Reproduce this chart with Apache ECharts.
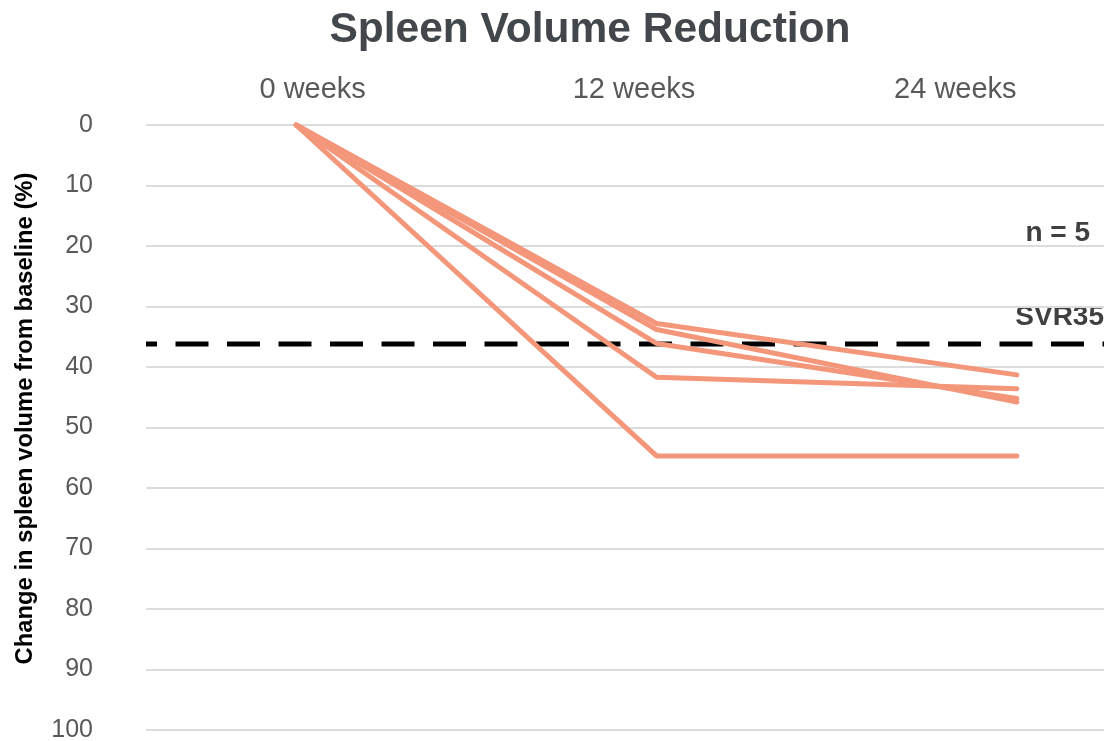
<!DOCTYPE html>
<html>
<head>
<meta charset="utf-8">
<style>
  html, body { margin: 0; padding: 0; background: #ffffff; }
  #chart { width: 1104px; height: 741px; }
</style>
<script src="https://cdn.jsdelivr.net/npm/echarts@6/dist/echarts.min.js"></script>
</head>
<body>
<div id="chart"></div>
<script>
// Time points (weeks) and their labels
const weeks = [0, 12, 24];
const weekLabels = ['0 weeks', '12 weeks', '24 weeks'];

// Percentage reduction of spleen volume from baseline, one array per patient
const patient1 = [0, 32.8, 41.3];
const patient2 = [0, 33.8, 45.8];
const patient3 = [0, 36.1, 45.2];
const patient4 = [0, 41.7, 43.6];
const patient5 = [0, 54.7, 54.7];
const patients = [patient1, patient2, patient3, patient4, patient5];

// SVR35 threshold line and the week range it spans
const svrThreshold = 36.2;
const weekRange = [-5, 27];

// Y-axis ticks
const yTicks = [0, 10, 20, 30, 40, 50, 60, 70, 80, 90, 100];

const lineColor = '#F4967A';
const textGray = '#595959';
const fontFamily = 'Liberation Sans, Arial, sans-serif';

const series = patients.map((vals, i) => ({
  type: 'line',
  name: 'Patient ' + (i + 1),
  xAxisIndex: 0,
  yAxisIndex: 0,
  data: vals.map((v, j) => [weeks[j], v]),
  symbol: 'none',
  lineStyle: { color: lineColor, width: 5, cap: 'round', join: 'round' },
  z: 3
}));

// Dashed SVR35 reference line across the whole plot width
series.push({
  type: 'line',
  name: 'SVR35',
  xAxisIndex: 0,
  yAxisIndex: 0,
  data: weekRange.map(w => [w, svrThreshold]),
  symbol: 'none',
  lineStyle: { color: '#000000', width: 5, type: [33, 18.5], dashOffset: 22 },
  z: 2
});

const chart = echarts.init(document.getElementById('chart'), null, { renderer: 'canvas' });
chart.setOption({
  animation: false,
  backgroundColor: '#ffffff',
  title: {
    text: 'Spleen Volume Reduction',
    left: 585,
    textAlign: 'center',
    top: 4,
    textStyle: { fontFamily, fontSize: 42.5, fontWeight: 'bold', color: '#43474B' }
  },
  grid: [
    // plotting area
    { left: 146, right: -3, top: 125, bottom: 11, containLabel: false, outerBoundsMode: 'none' },
    // header band carrying the time-point labels
    { left: 152, right: -12, top: 125, bottom: 11, containLabel: false, outerBoundsMode: 'none' }
  ],
  xAxis: [
    {
      type: 'value',
      gridIndex: 0,
      min: weekRange[0],
      max: weekRange[1],
      show: false
    },
    {
      type: 'category',
      gridIndex: 1,
      position: 'top',
      data: weekLabels,
      boundaryGap: true,
      axisLine: { show: false },
      axisTick: { show: false },
      splitLine: { show: false },
      axisLabel: { margin: 21, fontFamily, fontSize: 29, color: textGray }
    }
  ],
  yAxis: [
    {
      type: 'value',
      gridIndex: 0,
      inverse: true,
      min: yTicks[0],
      max: yTicks[yTicks.length - 1],
      interval: 10,
      name: 'Change in spleen volume from baseline (%)',
      nameLocation: 'middle',
      nameGap: 109,
      nameRotate: 90,
      nameTextStyle: {
        fontFamily,
        fontSize: 23.8,
        fontWeight: 'bold',
        color: '#000000',
        padding: [0, 0, 0, 18]
      },
      axisLine: { show: false },
      axisTick: { show: false },
      axisLabel: { margin: 53, fontFamily, fontSize: 25, color: textGray },
      splitLine: { lineStyle: { color: '#DCDCDC', width: 2 } }
    },
    {
      type: 'value',
      gridIndex: 1,
      show: false,
      splitLine: { show: false }
    }
  ],
  graphic: [
    {
      type: 'text',
      right: 14,
      top: 219,
      style: { text: 'n = 5', font: 'bold 28px "Liberation Sans", Arial, sans-serif', fill: '#404040' }
    },
    {
      type: 'text',
      right: 0,
      top: 303,
      style: { text: 'SVR35', font: 'bold 28px "Liberation Sans", Arial, sans-serif', fill: '#404040' }
    }
  ],
  series: series
});
</script>
</body>
</html>
